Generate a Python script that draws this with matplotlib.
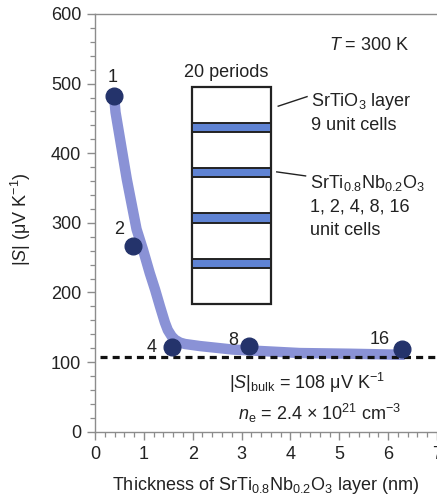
import matplotlib
matplotlib.use("Agg")
import matplotlib.pyplot as plt
from matplotlib.patches import Rectangle
from matplotlib.ticker import MultipleLocator

plt.rcParams['font.family'] = ['Liberation Sans', 'DejaVu Sans']
plt.rcParams['mathtext.fontset'] = 'custom'
plt.rcParams['mathtext.rm'] = 'Liberation Sans'
plt.rcParams['mathtext.it'] = 'Liberation Sans:italic'
plt.rcParams['mathtext.bf'] = 'Liberation Sans:bold'

# measured |S| for each SrTi0.8Nb0.2O3 layer thickness
n_cells = ['1', '2', '4', '8', '16']
thickness = [0.39, 0.78, 1.57, 3.15, 6.29]
s_abs = [482, 267, 122, 123, 119]

# guide-to-the-eye curve through the data
guide_x = [0.39, 0.42, 0.65, 0.85, 0.98, 1.12, 1.23, 1.33, 1.43, 1.49, 1.57,
           1.64, 1.74, 1.84, 2.15, 2.82, 4.19, 5.21, 6.34]
guide_y = [482, 459, 363, 291, 262, 228, 204, 180, 157, 146, 137,
           132, 128, 126, 123, 118, 113, 112, 110.5]

s_bulk = 108

# label offsets (points) for the unit-cell numbers
label_offsets = [(-0.7, 9.9), (-10, 8.4), (-14.6, -3.6), (-11.3, 0.7), (-16, 3.8)]

fig = plt.figure(figsize=(4.37, 4.98), dpi=100)
ax = fig.add_axes([95 / 437, 66.3 / 498, 342 / 437, 417.7 / 498])

spine_col = '#8c8c8c'
ax.plot(guide_x, guide_y, color='#8a92d6', lw=7.5, solid_capstyle='butt',
        solid_joinstyle='round', zorder=2)
ax.plot([0.1, 7], [s_bulk, s_bulk], color='#111111', lw=2.3,
        dashes=(2.2, 1.6), zorder=3, clip_on=False)
ax.plot(thickness, s_abs, 'o', color='#24336b', ms=12, zorder=4, clip_on=False)

for lab, x, y, off in zip(n_cells, thickness, s_abs, label_offsets):
    ax.annotate(lab, (x, y), xytext=off, textcoords='offset points',
                ha='center', va='baseline', fontsize=13, color='#222222')

ax.set_xlim(0, 7)
ax.set_ylim(0, 600)
ax.xaxis.set_major_locator(MultipleLocator(1))
ax.xaxis.set_minor_locator(MultipleLocator(0.2))
ax.yaxis.set_major_locator(MultipleLocator(100))
ax.yaxis.set_minor_locator(MultipleLocator(20))
ax.tick_params(which='major', direction='out', length=6, width=1.0,
               color=spine_col, labelsize=13, labelcolor='#222222', pad=4)
ax.tick_params(which='minor', direction='out', length=3.5, width=0.9,
               color=spine_col)
ax.spines['right'].set_visible(False)
for side in ['left', 'bottom', 'top']:
    ax.spines[side].set_color(spine_col)
    ax.spines[side].set_linewidth(1.0)

ax.set_xlabel(r'Thickness of SrTi$_{0.8}$Nb$_{0.2}$O$_3$ layer (nm)',
              fontsize=13, color='#222222')
ax.xaxis.set_label_coords(0.5, -0.104)
ax.set_ylabel(r'|$S$| (μV K$^{-1}$)', fontsize=13, color='#222222')
ax.yaxis.set_label_coords(-0.18, 0.51)

txt = dict(fontsize=13, color='#222222')
ax.text(5.62, 547.6, r'$T$ = 300 K', ha='center', va='baseline', **txt)
ax.text(2.69, 510, '20 periods', ha='center', va='baseline', **txt)
ax.text(4.42, 468, r'SrTiO$_3$ layer', ha='left', va='baseline', **txt)
ax.text(4.42, 434, '9 unit cells', ha='left', va='baseline', **txt)
ax.text(4.41, 350, r'SrTi$_{0.8}$Nb$_{0.2}$O$_3$', ha='left', va='baseline', **txt)
ax.text(4.41, 317, '1, 2, 4, 8, 16', ha='left', va='baseline', **txt)
ax.text(4.41, 283, 'unit cells', ha='left', va='baseline', **txt)
ax.text(2.74, 61, r'|$S$|$_{\rm bulk}$ = 108 μV K$^{-1}$', ha='left',
        va='baseline', **txt)
ax.text(2.92, 17, r'$n_{\rm e}$ = 2.4 × 10$^{21}$ cm$^{-3}$', ha='left',
        va='baseline', **txt)

# leader lines from the labels to the stack
ax.plot([3.75, 4.34], [467.6, 481.3], color='#222222', lw=1.0)
ax.plot([3.72, 4.31], [373.2, 367.4], color='#222222', lw=1.0)

# superlattice stack sketch: SrTiO3 (white) and doped (blue) layers
stack = fig.add_axes([191.7 / 437, 194 / 498, 79 / 437, 217.3 / 498])
stack.set_xlim(0, 1)
stack.set_ylim(0, 4.8)
stack.axis('off')
stack.add_patch(Rectangle((0, 0), 1, 4.8, facecolor='white',
                          edgecolor='#222222', lw=1.6, clip_on=False))
for k in range(4):
    y0 = 0.8 + k * 1.0
    stack.add_patch(Rectangle((0, y0), 1, 0.2, facecolor='#5f83d3',
                              edgecolor='#222222', lw=1.4, clip_on=False))

fig.savefig('out.png', dpi=100)
